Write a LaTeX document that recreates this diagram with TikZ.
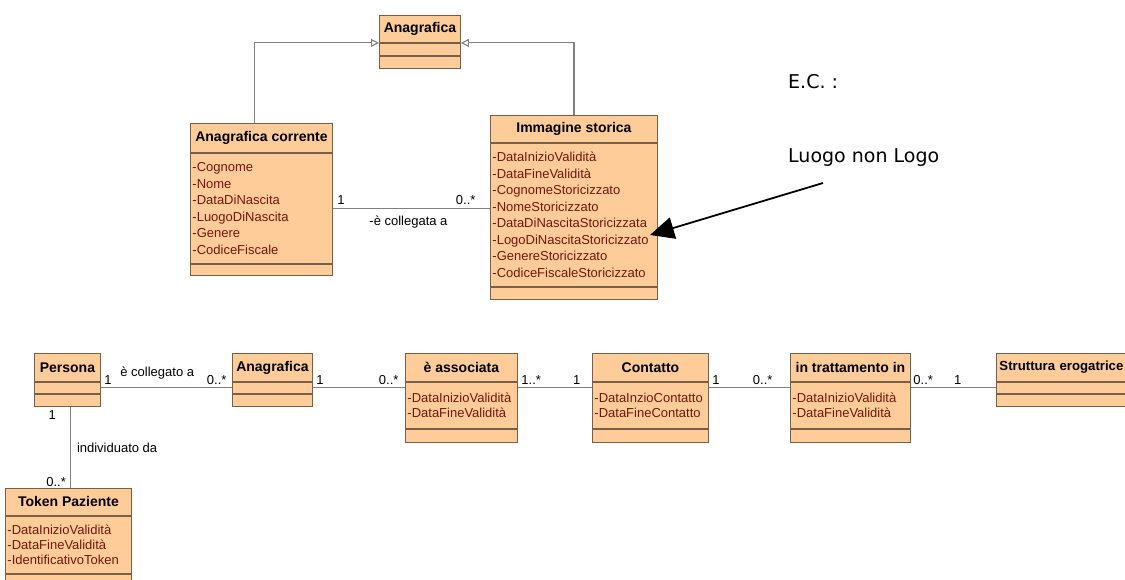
\documentclass[tikz,border=0pt]{standalone}
\usepackage{fontspec}
\setmainfont{Liberation Sans}
\newfontfamily\notafont{DejaVu Sans}
\usepackage{tikz}
\usetikzlibrary{arrows.meta, positioning}

\definecolor{pesca}{RGB}{254,204,153}
\definecolor{bordo}{RGB}{120,96,72}
\definecolor{attrib}{RGB}{112,24,12}
\definecolor{linea}{RGB}{128,128,128}

\begin{document}
\begin{tikzpicture}[
  x=1pt, y=-1pt,
  titolo/.style={
    draw=bordo, fill=pesca, line width=0.9pt,
    font=\fontsize{14}{16}\selectfont\bfseries,
    inner sep=0pt,
    anchor=north west
  },
  campi/.style={
    draw=bordo, fill=pesca, line width=0.9pt,
    font=\fontsize{13}{#1}\selectfont,
    text=attrib,
    align=left,
    inner xsep=2pt, inner ysep=0pt
  },
  vuoto/.style={
    draw=bordo, fill=pesca, line width=0.9pt,
    inner sep=0pt,
    minimum height=12pt
  },
  etich/.style={
    font=\fontsize{13}{15}\selectfont,
    inner xsep=1pt, inner ysep=3pt
  },
  assoc/.style={
    draw=linea, line width=1.1pt
  },
  gen/.style={
    -{Triangle[open, length=8pt, width=8pt]},
    draw=linea, line width=1.1pt
  },
  nota/.style={
    -{Triangle[length=24pt, width=22pt]},
    line width=1.8pt, draw=black
  }
]
\useasboundingbox (0,0) rectangle (1125,579);
\clip (0,0) rectangle (1125,579);

% Schema in alto
\node[titolo, minimum width=81pt, minimum height=27pt] (anT) at (379,15) {Anagrafica};
\node[vuoto, minimum width=81pt, below=0pt of anT] (anA) {};
\node[vuoto, minimum width=81pt, below=0pt of anA] (anF) {};

\node[titolo, minimum width=142pt, minimum height=29pt] (acT) at (190,123) {Anagrafica corrente};
\node[campi=16.5pt, text width=138pt, minimum height=110pt, below=0pt of acT] (acA)
  {-Cognome\\-Nome\\-DataDiNascita\\-LuogoDiNascita\\-Genere\\-CodiceFiscale};
\node[vuoto, minimum width=142pt, minimum height=11pt, below=0pt of acA] (acF) {};

\node[titolo, minimum width=167pt, minimum height=27pt] (isT) at (490,115) {Immagine storica};
\node[campi=16.5pt, text width=163pt, minimum height=143pt, below=0pt of isT] (isA)
  {-DataInizioValidità\\-DataFineValidità\\-CognomeStoricizzato\\-NomeStoricizzato\\
   -DataDiNascitaStoricizzata\\-LogoDiNascitaStoricizzato\\-GenereStoricizzato\\
   -CodiceFiscaleStoricizzato};
\node[vuoto, minimum width=167pt, below=0pt of isA] (isF) {};

\draw[gen] ([xshift=-7pt]acT.north) |- (anT.south west);
\draw[gen] (isT.north) |- (anT.south east);

\draw[assoc] (acA.east) --
  node[etich, pos=0, anchor=south west, xshift=3pt] {1}
  node[etich, pos=1, anchor=south east, xshift=-13pt] {0..*}
  node[etich, midway, below=4pt, xshift=-3pt] {-è collegata a}
  (acA.east -| isA.west);

% Nota
\node[font=\notafont\fontsize{19}{22}\selectfont, anchor=west, inner sep=0pt] (ec) at (788,82) {E.C. :};
\node[font=\notafont\fontsize{19}{22}\selectfont, anchor=west, inner sep=0pt] (lnl) at (788,158) {Luogo non Logo};
\coordinate (coda) at (823,183);
\coordinate (punta) at (650,235);
\draw[nota] (coda) -- (punta);

% Schema in basso
\node[titolo, minimum width=66pt, minimum height=28pt] (peT) at (34,353) {Persona};
\node[vuoto, minimum width=66pt, minimum height=11pt, below=0pt of peT] (peA) {};
\node[vuoto, minimum width=66pt, below=0pt of peA] (peF) {};

\node[titolo, minimum width=80pt, minimum height=28pt] (agT) at (232,353) {Anagrafica};
\node[vuoto, minimum width=80pt, minimum height=11pt, below=0pt of agT] (agA) {};
\node[vuoto, minimum width=80pt, below=0pt of agA] (agF) {};

\node[titolo, minimum width=112pt, minimum height=28pt] (eaT) at (405,353) {è associata};
\node[campi=15pt, text width=108pt, minimum height=46pt, below=0pt of eaT] (eaA)
  {-DataInizioValidità\\-DataFineValidità};
\node[vuoto, minimum width=112pt, minimum height=13pt, below=0pt of eaA] (eaF) {};

\node[titolo, minimum width=116pt, minimum height=28pt] (coT) at (592,353) {Contatto};
\node[campi=15pt, text width=112pt, minimum height=46pt, below=0pt of coT] (coA)
  {-DataInzioContatto\\-DataFineContatto};
\node[vuoto, minimum width=116pt, minimum height=13pt, below=0pt of coA] (coF) {};

\node[titolo, minimum width=120pt, minimum height=28pt] (trT) at (790,353) {in trattamento in};
\node[campi=15pt, text width=116pt, minimum height=46pt, below=0pt of trT] (trA)
  {-DataInizioValidità\\-DataFineValidità};
\node[vuoto, minimum width=120pt, minimum height=13pt, below=0pt of trA] (trF) {};

% ultima classe tagliata dal bordo
\node[titolo, text width=136pt, align=left, inner xsep=3pt, minimum height=28pt,
  font=\fontsize{13.2}{16}\selectfont\bfseries] (seT) at (996,353) {Struttura erogatrice};
\node[vuoto, minimum width=142pt, minimum height=11pt, below=0pt of seT] (seA) {};
\node[vuoto, minimum width=142pt, below=0pt of seA] (seF) {};

\node[titolo, minimum width=126pt, minimum height=27pt] (tpT) at (5,488) {Token Paziente};
\node[campi=15pt, text width=122pt, minimum height=57pt, below=0pt of tpT] (tpA)
  {-DataInizioValidità\\-DataFineValidità\\-IdentificativoToken};
\node[vuoto, minimum width=126pt, below=0pt of tpA] (tpF) {};

% Associazioni
\draw[assoc] (peA.east) --
  node[etich, pos=0, anchor=south west, xshift=2pt] {1}
  node[etich, pos=0.43, above=5pt] {è collegato a}
  node[etich, pos=1, anchor=south east, xshift=-4pt] {0..*}
  (agA.west);
\draw[assoc] (agA.east) --
  node[etich, pos=0, anchor=south west, xshift=2pt] {1}
  node[etich, pos=1, anchor=south east, xshift=-5pt] {0..*}
  (eaA.west |- agA.east);
\draw[assoc] (eaA.east |- seA.west) --
  node[etich, pos=0, anchor=south west, xshift=2pt] {1..*}
  node[etich, pos=1, anchor=south east, xshift=-10pt] {1}
  (coA.west |- seA.west);
\draw[assoc] (coA.east |- seA.west) --
  node[etich, pos=0, anchor=south west, xshift=2pt] {1}
  node[etich, pos=1, anchor=south east, xshift=-16pt] {0..*}
  (trA.west |- seA.west);
\draw[assoc] (trA.east |- seA.west) --
  node[etich, pos=0, anchor=south west, xshift=1pt] {0..*}
  node[etich, pos=1, anchor=south east, xshift=-33pt] {1}
  (seA.west);
\draw[assoc] ([xshift=3pt]peF.south) --
  node[etich, pos=0, anchor=north east, xshift=-13pt] {1}
  node[etich, midway, right=5pt] {individuato da}
  node[etich, pos=1, anchor=south east, xshift=-3pt, inner ysep=1pt] {0..*}
  ([xshift=3pt]peF.south |- tpT.north);

\end{tikzpicture}
\end{document}
